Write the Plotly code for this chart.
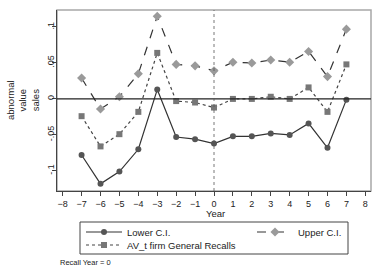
import plotly.graph_objects as go

years = [-7, -6, -5, -4, -3, -2, -1, 0, 1, 2, 3, 4, 5, 6, 7]
lower_ci = [-0.078, -0.118, -0.101, -0.070, 0.013, -0.053, -0.056, -0.062,
            -0.052, -0.052, -0.048, -0.050, -0.034, -0.068, -0.001]
upper_ci = [0.029, -0.014, 0.003, 0.035, 0.115, 0.048, 0.046, 0.039,
            0.051, 0.050, 0.054, 0.051, 0.066, 0.031, 0.097]
av_recalls = [-0.024, -0.066, -0.049, -0.018, 0.064, -0.003, -0.005, -0.012,
              0.000, 0.000, 0.003, 0.000, 0.016, -0.018, 0.048]

x_ticks = list(range(-8, 9))
y_tickvals = [-0.1, -0.05, 0, 0.05, 0.1]
y_ticktext = ["-.1", "-.05", "0", ".05", ".1"]

FONT = "Liberation Sans, Arial, sans-serif"
W, H = 382, 278
L, R, T, B = 57, 11, 10, 87
PW, PH = W - L - R, H - T - B


def px_x(px):
    return (px - L) / PW


def px_y(py):
    return (H - B - py) / PH


fig = go.Figure()
fig.add_trace(go.Scatter(
    x=years, y=lower_ci, name="Lower C.I.", mode="lines+markers",
    line=dict(color="#333333", width=1.2),
    marker=dict(symbol="circle", size=6, color="#555555"),
    legend="legend"))
fig.add_trace(go.Scatter(
    x=years, y=upper_ci, name="Upper C.I.", mode="lines+markers",
    line=dict(color="#333333", width=1.2, dash="dash"),
    marker=dict(symbol="diamond", size=7, color="#9a9a9a"),
    legend="legend2"))
fig.add_trace(go.Scatter(
    x=years, y=av_recalls, name="AV_t firm General Recalls", mode="lines+markers",
    line=dict(color="#444444", width=1.2, dash="dot"),
    marker=dict(symbol="square", size=6, color="#777777"),
    legend="legend3"))

# plot frame
fig.add_shape(type="rect", xref="paper", yref="paper", x0=0, x1=1, y0=0, y1=1,
              line=dict(color="#a8a8a8", width=1.5), layer="below")
# reference lines
fig.add_shape(type="line", xref="paper", yref="y", x0=0, x1=1, y0=0, y1=0,
              line=dict(color="#222222", width=1.2))
fig.add_shape(type="line", xref="x", yref="paper", x0=0, x1=0, y0=0, y1=1,
              line=dict(color="#555555", width=0.8, dash="dot"))
# legend box
fig.add_shape(type="rect", xref="paper", yref="paper",
              x0=px_x(80), x1=px_x(348), y0=px_y(254), y1=px_y(222),
              line=dict(color="#444444", width=1))

fig.add_annotation(text="Recall Year = 0", xref="paper", yref="paper",
                   x=px_x(58), y=px_y(262), xanchor="left", yanchor="middle",
                   showarrow=False, font=dict(size=7.5, color="#222222", family=FONT))
fig.add_annotation(text="abnormal<br>value<br>sales", xref="paper", yref="paper",
                   x=px_x(23), y=px_y(100), xanchor="center", yanchor="middle",
                   textangle=-90, showarrow=False,
                   font=dict(size=9.5, color="#222222", family=FONT))
fig.add_annotation(text="Year", xref="paper", yref="paper",
                   x=px_x(215), y=px_y(212), xanchor="center", yanchor="top",
                   yshift=6, showarrow=False,
                   font=dict(size=9.5, color="#222222", family=FONT))

leg_common = dict(orientation="v", xref="container", yref="container",
                  xanchor="left", yanchor="middle", bgcolor="rgba(0,0,0,0)",
                  font=dict(size=9.5), itemwidth=36)

fig.update_layout(
    width=W, height=H,
    margin=dict(l=L, r=R, t=T, b=B, autoexpand=False),
    paper_bgcolor="white", plot_bgcolor="white",
    font=dict(family=FONT, size=9, color="#222222"),
    xaxis=dict(range=[-8.3, 8.3], tickvals=x_ticks, showgrid=False, zeroline=False,
               showline=True, linecolor="#444444", linewidth=1, automargin=False,
               ticks="outside", ticklen=4, tickcolor="#444444",
               tickfont=dict(size=9)),
    yaxis=dict(range=[-0.128, 0.1236], tickvals=y_tickvals, ticktext=y_ticktext,
               showgrid=False, zeroline=False, tickangle=-90, automargin=False,
               showline=True, linecolor="#444444", linewidth=1,
               ticks="outside", ticklen=4, tickcolor="#444444",
               ticklabelstandoff=-6, tickfont=dict(size=9)),
    legend=dict(leg_common, x=81 / W, y=1 - 232 / H),
    legend2=dict(leg_common, x=252 / W, y=1 - 232 / H),
    legend3=dict(leg_common, x=81 / W, y=1 - 245 / H),
    showlegend=True,
)

fig.write_html("out.html", config={"displayModeBar": False},
               post_script="document.body.style.margin='0';")
